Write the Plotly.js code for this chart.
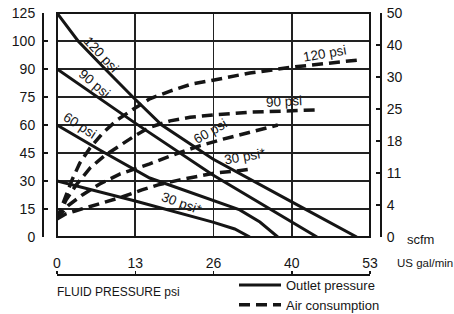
<!DOCTYPE html>
<html><head><meta charset="utf-8">
<script src="https://cdn.plot.ly/plotly-3.0.1.min.js"></script>
<style>html,body{margin:0;padding:0;background:#fff}#chart{width:454px;height:314px}</style>
</head><body><div id="chart"></div>
<script>
// Axis tick labels (axes are non-linear: equally spaced labels)
const flowTicks = [0, 13, 26, 40, 53];                        // US gal/min
const psiTicks  = [0, 15, 30, 45, 60, 75, 90, 100, 125];       // outlet pressure psi
const scfmTicks = [0, 4, 11, 18, 25, 30, 40, 50];              // air consumption scfm

// Outlet pressure curves (flow gpm, psi)
const out120Flow = [0, 3.5, 8.0, 12.6, 17.4, 25.9, 40.0, 50.8];
const out120Psi  = [125, 100, 90, 75, 60, 41.8, 18.8, 0];
const out90Flow  = [0, 7.0, 13.0, 25.9, 35.2, 44.2];
const out90Psi   = [90, 74.4, 61, 33.2, 16.6, 0];
const out60Flow  = [0, 7.1, 15.4, 25.9, 30.7, 34.3, 37.5];
const out60Psi   = [60, 46.6, 31.6, 19.8, 14.5, 8.0, 0];
const out30Flow  = [0, 13.0, 25.9, 29.8, 32.5];
const out30Psi   = [30, 19.3, 8.0, 4.3, 0];

// Air consumption curves (flow gpm, scfm)
const air120Flow = [0, 1.2, 2.5, 3.8, 5.5, 7.6, 10.0, 12.5, 15.4, 18.8, 22.4, 25.9, 32.5, 40.2, 46.4, 51.0];
const air120Scfm = [2.25, 5.1, 9.5, 13.2, 16.5, 19.75, 22.6, 24.8, 26.6, 27.8, 28.9, 29.5, 31.25, 33.1, 34.4, 35.3];
const air90Flow  = [0, 1.5, 3.2, 5.5, 8.0, 10.5, 13.0, 15.4, 18.8, 22.1, 25.9, 32.5, 39.7, 44.2];
const air90Scfm  = [2.25, 5.1, 8.4, 12.1, 14.9, 17.1, 19.2, 21.0, 22.4, 23.2, 23.7, 24.3, 24.6, 24.8];
const air60Flow  = [0, 1.8, 4.2, 7.1, 10.5, 15.4, 19.6, 23.8, 27.7, 32.5, 37.5];
const air60Scfm  = [2.25, 3.9, 6.2, 8.6, 10.8, 13.0, 15.1, 17.0, 18.4, 20.0, 21.5];
const air30Flow  = [0, 1.5, 3.0, 5.2, 8.0, 10.8, 14.1, 16.8, 20.4, 23.8, 26.3, 29.8, 32.9];
const air30Scfm  = [2.25, 2.9, 3.25, 3.75, 4.7, 5.75, 7.3, 8.4, 9.5, 10.3, 11.0, 11.4, 11.9];

// piecewise-linear scale: value -> tick index position
function toIdx(v, ticks) {
  for (let i = 0; i < ticks.length - 1; i++) {
    if (v <= ticks[i + 1] || i === ticks.length - 2) {
      return i + (v - ticks[i]) / (ticks[i + 1] - ticks[i]);
    }
  }
}
const mapArr = (arr, ticks) => arr.map(v => toIdx(v, ticks));

const INK = '#151515';
const FONT = 'Liberation Sans, Arial, sans-serif';
const solid = {color: INK, width: 3};
const dashed = {color: INK, width: 3.5, dash: '11px,6px'};

function outTrace(fx, py, name, show) {
  return {x: mapArr(fx, flowTicks), y: mapArr(py, psiTicks), xaxis: 'x', yaxis: 'y',
    mode: 'lines', line: solid, name: name, showlegend: show, hoverinfo: 'skip'};
}
function airTrace(fx, sy, name, show) {
  return {x: mapArr(fx, flowTicks), y: mapArr(sy, scfmTicks), xaxis: 'x', yaxis: 'y2',
    mode: 'lines', line: dashed, name: name, showlegend: show, hoverinfo: 'skip'};
}

const traces = [
  outTrace(out120Flow, out120Psi, 'Outlet pressure', true),
  outTrace(out90Flow, out90Psi, 'Outlet pressure', false),
  outTrace(out60Flow, out60Psi, 'Outlet pressure', false),
  outTrace(out30Flow, out30Psi, 'Outlet pressure', false),
  airTrace(air120Flow, air120Scfm, 'Air consumption', true),
  airTrace(air90Flow, air90Scfm, 'Air consumption', false),
  airTrace(air60Flow, air60Scfm, 'Air consumption', false),
  airTrace(air30Flow, air30Scfm, 'Air consumption', false)
];

const W = 454, H = 314;
const px = x => x / W, py = y => 1 - y / H;
const idx = n => Array.from({length: n}, (_, i) => i);

function lab(text, x, y, ang, size) {
  return {text: text, xref: 'paper', yref: 'paper', x: px(x), y: py(y), showarrow: false,
    textangle: ang, xanchor: 'center', yanchor: 'middle', font: {family: FONT, size: size || 13.5, color: INK}};
}

const layout = {
  width: W, height: H,
  margin: {l: 0, r: 0, t: 0, b: 0, pad: 0, autoexpand: false},
  paper_bgcolor: '#fff', plot_bgcolor: '#fff',
  font: {family: FONT, color: INK},
  showlegend: true,
  legend: {x: px(234), y: py(270), xanchor: 'left', yanchor: 'top', font: {family: FONT, size: 13, color: INK},
    bgcolor: 'rgba(0,0,0,0)', tracegroupgap: 0, itemwidth: 42},
  xaxis: {domain: [px(57), px(370)], range: [0, 4], anchor: 'free', position: py(274), side: 'top',
    tickvals: idx(flowTicks.length), ticktext: flowTicks.map(String),
    showline: true, linecolor: INK, linewidth: 1.5, ticks: 'outside', ticklen: 3, tickcolor: INK, tickwidth: 1.5,
    showgrid: true, gridcolor: '#222', gridwidth: 1.8, zeroline: false, fixedrange: true,
    ticklabelstandoff: -3,
    tickfont: {family: FONT, size: 14, color: INK}},
  yaxis: {domain: [py(237), py(13)], range: [0, 8], anchor: 'free', position: px(43), side: 'left',
    tickvals: idx(psiTicks.length), ticktext: psiTicks.map(String),
    showline: true, linecolor: INK, linewidth: 2, ticks: 'inside', ticklen: 4, tickcolor: INK, tickwidth: 2,
    showgrid: true, gridcolor: '#222', gridwidth: 1.8, zeroline: false, fixedrange: true,
    ticklabelstandoff: 4,
    tickfont: {family: FONT, size: 14, color: INK}},
  yaxis2: {range: [0, 7], overlaying: 'y', anchor: 'free', position: px(381), side: 'right',
    tickvals: idx(scfmTicks.length), ticktext: scfmTicks.map(String),
    showline: true, linecolor: INK, linewidth: 2, ticks: 'inside', ticklen: 4, tickcolor: INK, tickwidth: 2,
    showgrid: false, zeroline: false, fixedrange: true, ticklabelstandoff: 2,
    tickfont: {family: FONT, size: 14, color: INK}},
  shapes: [{type: 'rect', xref: 'x domain', yref: 'y domain', x0: 0, x1: 1, y0: 0, y1: 1,
    line: {color: INK, width: 2}, layer: 'above'}],
  annotations: [
    lab('120 psi', 101, 55, 47),
    lab('90 psi', 94, 84, 40),
    lab('60 psi', 80, 125, 33),
    lab('30 psi*', 182, 203, 20),
    lab('120 psi', 325, 54, -10),
    lab('90 psi', 284, 102, -3),
    lab('60 psi', 210, 131, -30),
    lab('30 psi*', 245, 156, -10),
    lab('US gal/min', 425, 263, 0, 11.5),
    lab('scfm', 420, 239, 0, 13),
    {text: 'FLUID PRESSURE psi', xref: 'paper', yref: 'paper', x: px(55), y: py(292), xanchor: 'left', yanchor: 'middle',
      showarrow: false, font: {family: FONT, size: 12, color: INK}}
  ]
};

Plotly.newPlot('chart', traces, layout, {staticPlot: true, displayModeBar: false});
</script>
</body></html>
